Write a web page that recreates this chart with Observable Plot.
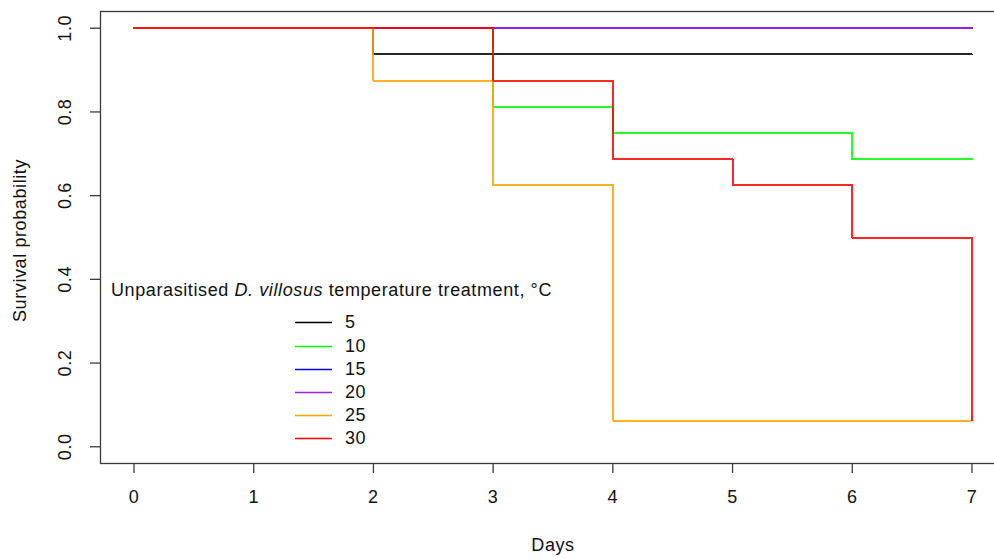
<!DOCTYPE html>
<html>
<head>
<meta charset="utf-8">
<script src="https://cdn.jsdelivr.net/npm/d3@7"></script>
<script src="https://cdn.jsdelivr.net/npm/@observablehq/plot@0.6"></script>
<style>
  html, body { margin: 0; padding: 0; background: #fff; }
  #wrap { position: relative; width: 994px; height: 559px; overflow: hidden; font-family: "Liberation Sans", Arial, sans-serif; color: #111; }
  #wrap svg.plot { max-width: none !important; position: absolute; left: 0; top: 0; }
  #legend { position: absolute; left: 0; top: 0; font-size: 18px; letter-spacing: 0.6px; }
  .lg-title { position: absolute; left: 111px; top: 279px; white-space: nowrap; line-height: 22px; }
  .lg-row { position: absolute; left: 295px; height: 22px; line-height: 22px; white-space: nowrap; }
  .lg-sw { position: absolute; left: 0; top: 10px; }
  .lg-lab { position: absolute; left: 50px; top: 0; }
</style>
</head>
<body>
<div id="wrap"><div id="legend"></div></div>
<script>
// Treatments (°C) and colours
const treatments = ["5", "10", "15", "20", "25", "30"];
const colors = ["#000000", "#00ff00", "#0000ff", "#a020f0", "#ffa500", "#ff0000"];

// Kaplan-Meier step data (time in days, survival probability)
const days5 = [0, 2, 7];            const surv5 = [1, 0.9375, 0.9375];
const days10 = [0, 3, 4, 6, 7];     const surv10 = [1, 0.8125, 0.75, 0.6875, 0.6875];
const days15 = [0, 7];              const surv15 = [1, 1];
const days20 = [0, 7];              const surv20 = [1, 1];
const days25 = [0, 2, 3, 4, 7];     const surv25 = [1, 0.875, 0.625, 0.0625, 0.0625];
const days30 = [0, 3, 4, 5, 6, 7];  const surv30 = [1, 0.875, 0.6875, 0.625, 0.5, 0.0625];

// Axis ticks
const xTicks = [0, 1, 2, 3, 4, 5, 6, 7];
const yTicks = [0, 0.2, 0.4, 0.6, 0.8, 1.0];

const allDays = [days5, days10, days15, days20, days25, days30];
const allSurv = [surv5, surv10, surv15, surv20, surv25, surv30];
const rows = [];
treatments.forEach((t, i) => {
  allDays[i].forEach((d, j) => rows.push({treatment: t, day: d, surv: allSurv[i][j]}));
});

const font = "'Liberation Sans', Arial, sans-serif";
const axisColor = "#3a3a3a";
const fs = 18;

const lineMarks = treatments.map((t, i) =>
  Plot.line(rows.filter(r => r.treatment === t), {
    x: "day", y: "surv", curve: "step-after",
    stroke: colors[i], strokeWidth: 2, strokeOpacity: 0.85, shapeRendering: "crispEdges"
  })
);

const chart = Plot.plot({
  width: 1005,
  height: 559,
  marginLeft: 100,
  marginRight: 0,
  marginTop: 11,
  marginBottom: 96,
  style: { fontFamily: font, background: "transparent", color: "#111", letterSpacing: "0.6px", maxWidth: "none" },
  x: { domain: [-0.28, 7.28], axis: null },
  y: { domain: [-0.04, 1.04], axis: null },
  marks: [
    ...lineMarks,
    Plot.frame({ stroke: axisColor, strokeWidth: 1.3 }),
    Plot.axisX(xTicks, { tickSize: 10, tickFormat: () => "", stroke: axisColor, strokeWidth: 1.3, label: null }),
    Plot.axisY(yTicks, { tickSize: 10, tickFormat: () => "", stroke: axisColor, strokeWidth: 1.3, label: null }),
    Plot.text(xTicks, { x: d => d, text: d => String(d), frameAnchor: "bottom", lineAnchor: "middle", dy: 34, fontSize: fs, fill: "#111" }),
    Plot.text(yTicks, { y: d => d, text: d => d.toFixed(1), frameAnchor: "left", textAnchor: "middle", lineAnchor: "middle", dx: -35, rotate: -90, fontSize: fs, fill: "#111" }),
    Plot.text(["Days"], { text: d => d, frameAnchor: "bottom", lineAnchor: "middle", dy: 82, fontSize: fs, fill: "#111" }),
    Plot.text(["Survival probability"], { text: d => d, frameAnchor: "left", textAnchor: "middle", lineAnchor: "middle", dx: -80, dy: 3, rotate: -90, fontSize: fs, fill: "#111" })
  ]
});
const wrap = document.getElementById("wrap");
wrap.insertBefore(chart, wrap.firstChild);

// Legend (HTML overlay)
const legend = document.getElementById("legend");
const title = document.createElement("div");
title.className = "lg-title";
title.innerHTML = "Unparasitised <i>D. villosus</i> temperature treatment, °C";
legend.appendChild(title);
const svgNS = "http://www.w3.org/2000/svg";
treatments.forEach((t, i) => {
  const row = document.createElement("div");
  row.className = "lg-row";
  row.style.top = (311.3 + 23.2 * i) + "px";
  const sw = document.createElementNS(svgNS, "svg");
  sw.setAttribute("class", "lg-sw");
  sw.setAttribute("width", "37");
  sw.setAttribute("height", "3");
  const ln = document.createElementNS(svgNS, "line");
  ln.setAttribute("x1", "0"); ln.setAttribute("x2", "37");
  ln.setAttribute("y1", "1.5"); ln.setAttribute("y2", "1.5");
  ln.setAttribute("stroke", colors[i]);
  ln.setAttribute("stroke-width", "1.3");
  sw.appendChild(ln);
  const lab = document.createElement("div");
  lab.className = "lg-lab";
  lab.textContent = t;
  row.appendChild(sw);
  row.appendChild(lab);
  legend.appendChild(row);
});
</script>
</body>
</html>
